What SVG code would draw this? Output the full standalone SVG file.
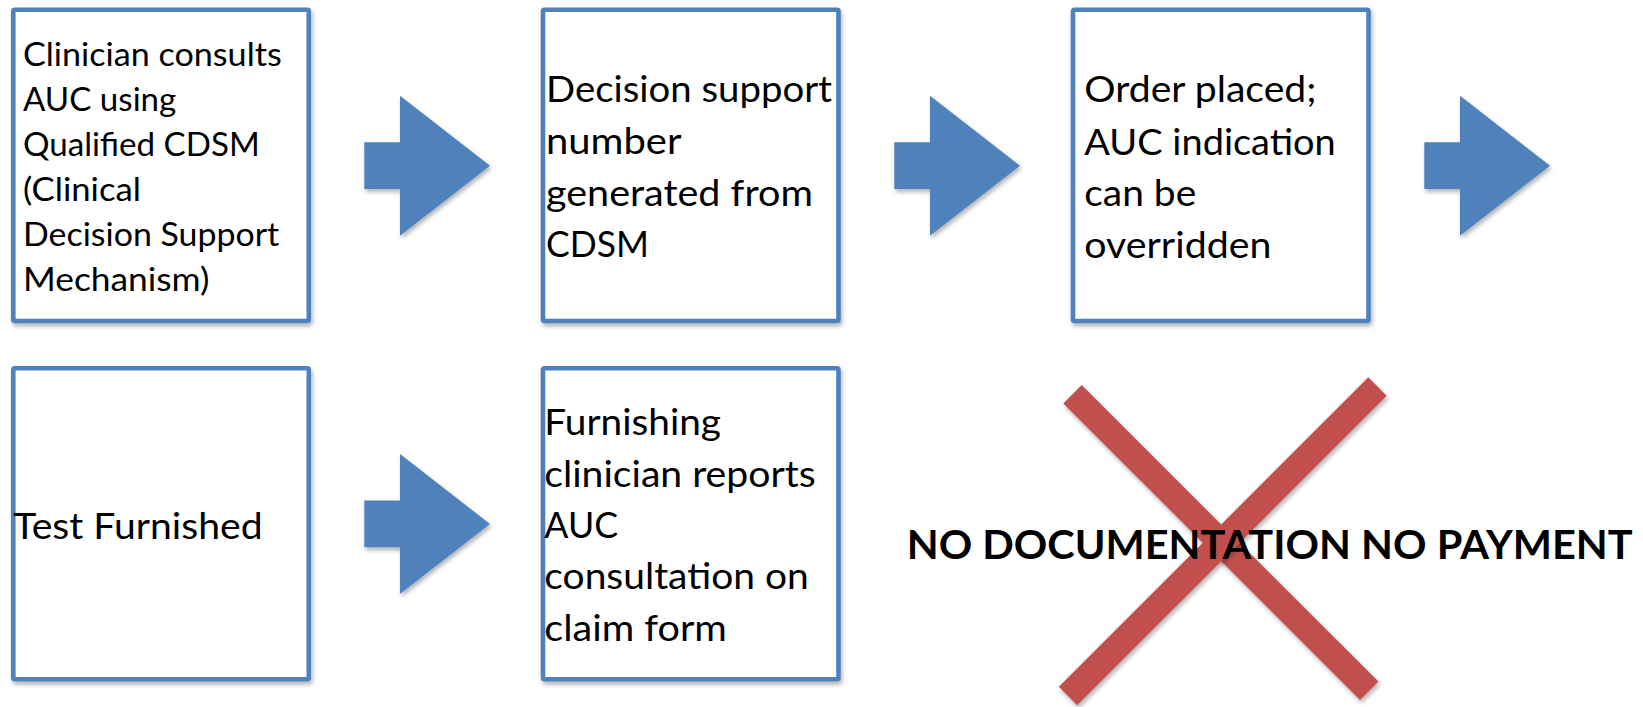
<svg xmlns="http://www.w3.org/2000/svg" width="1643" height="707" viewBox="0 0 1643 707">
<style>
.box{fill:#ffffff;stroke:#4F81BD;stroke-width:4.6;filter:url(#sh)}
.arrow{fill:#4F81BD;filter:url(#sh)}
.t1{font-family:Lato,"Open Sans","Liberation Sans",sans-serif;font-size:32.5px;fill:#000}
.t2{font-family:Lato,"Open Sans","Liberation Sans",sans-serif;font-size:37px;fill:#000}
.tb{font-family:Lato,"Open Sans","Liberation Sans",sans-serif;font-size:39.5px;font-weight:bold;fill:#000}
.xline{stroke:#C0504D;stroke-width:26;fill:none;filter:url(#sh)}
</style>
<defs>
<filter id="sh" x="-10%" y="-10%" width="130%" height="130%">
<feDropShadow dx="1.5" dy="3" stdDeviation="2" flood-color="#000" flood-opacity="0.3"/>
</filter>
</defs>
<rect width="1643" height="707" fill="#ffffff"/>

<g id="node-clinician-consults">
<rect class="box" x="13.3" y="9.7" width="295.5" height="311.3" rx="1.5"/>
<text class="t1" lengthAdjust="spacingAndGlyphs">
<tspan x="23" y="65.7" textLength="258.7" lengthAdjust="spacingAndGlyphs">Clinician consults</tspan>
<tspan x="23" y="111" textLength="153.3" lengthAdjust="spacingAndGlyphs">AUC using</tspan>
<tspan x="23" y="156" textLength="236.8" lengthAdjust="spacingAndGlyphs">Qualified CDSM</tspan>
<tspan x="23" y="201" textLength="117.9" lengthAdjust="spacingAndGlyphs">(Clinical</tspan>
<tspan x="23" y="246" textLength="256.3" lengthAdjust="spacingAndGlyphs">Decision Support</tspan>
<tspan x="23" y="291" textLength="186.5" lengthAdjust="spacingAndGlyphs">Mechanism)</tspan>
</text>
</g>

<g id="node-decision-number">
<rect class="box" x="543" y="9.7" width="295.5" height="311.3" rx="1.5"/>
<text class="t2">
<tspan x="546" y="102" textLength="285.9" lengthAdjust="spacingAndGlyphs">Decision support</tspan>
<tspan x="546" y="154" textLength="134.6" lengthAdjust="spacingAndGlyphs">number</tspan>
<tspan x="546" y="205.5" textLength="266.9" lengthAdjust="spacingAndGlyphs">generated from</tspan>
<tspan x="546" y="257" textLength="102.9" lengthAdjust="spacingAndGlyphs">CDSM</tspan>
</text>
</g>

<g id="node-order-placed">
<rect class="box" x="1073" y="9.7" width="295.5" height="311.3" rx="1.5"/>
<text class="t2">
<tspan x="1084.3" y="102" textLength="232.2" lengthAdjust="spacingAndGlyphs">Order placed;</tspan>
<tspan x="1084.3" y="154.5" textLength="251.5" lengthAdjust="spacingAndGlyphs">AUC indication</tspan>
<tspan x="1084.3" y="205.7" textLength="111.9" lengthAdjust="spacingAndGlyphs">can be</tspan>
<tspan x="1084.3" y="257.5" textLength="187.1" lengthAdjust="spacingAndGlyphs">overridden</tspan>
</text>
</g>

<g id="node-test-furnished">
<rect class="box" x="13.3" y="368.3" width="295.5" height="311" rx="1.5"/>
<text class="t2"><tspan x="13.3" y="539" textLength="249.3" lengthAdjust="spacingAndGlyphs">Test Furnished</tspan></text>
</g>

<g id="node-furnishing-reports">
<rect class="box" x="543" y="368.3" width="295.5" height="311" rx="1.5"/>
<text class="t2">
<tspan x="544.3" y="435" textLength="176.7" lengthAdjust="spacingAndGlyphs">Furnishing</tspan>
<tspan x="544.3" y="486.7" textLength="271.3" lengthAdjust="spacingAndGlyphs">clinician reports</tspan>
<tspan x="544.3" y="538.3" textLength="73.8" lengthAdjust="spacingAndGlyphs">AUC</tspan>
<tspan x="544.3" y="589.3" textLength="264.5" lengthAdjust="spacingAndGlyphs">consultation on</tspan>
<tspan x="544.3" y="640.7" textLength="182.5" lengthAdjust="spacingAndGlyphs">claim form</tspan>
</text>
</g>

<g id="connectors">
<polygon class="arrow" points="364.3,142.3 400,142.3 400,95.7 490,165.7 400,235.7 400,189 364.3,189"/>
<polygon class="arrow" transform="translate(530,0)" points="364.3,142.3 400,142.3 400,95.7 490,165.7 400,235.7 400,189 364.3,189"/>
<polygon class="arrow" transform="translate(1060,0)" points="364.3,142.3 400,142.3 400,95.7 490,165.7 400,235.7 400,189 364.3,189"/>
<polygon class="arrow" transform="translate(0,358.3)" points="364.3,142.3 400,142.3 400,95.7 490,165.7 400,235.7 400,189 364.3,189"/>
</g>

<g id="no-payment-cross">
<line class="xline" x1="1072.5" y1="394.2" x2="1369.2" y2="690.8"/>
<line class="xline" x1="1377.5" y1="386.5" x2="1068" y2="696"/>
</g>

<g id="no-payment-label">
<text class="tb" x="906.7" y="559" textLength="726" lengthAdjust="spacingAndGlyphs">NO DOCUMENTATION NO PAYMENT</text>
</g>
</svg>
